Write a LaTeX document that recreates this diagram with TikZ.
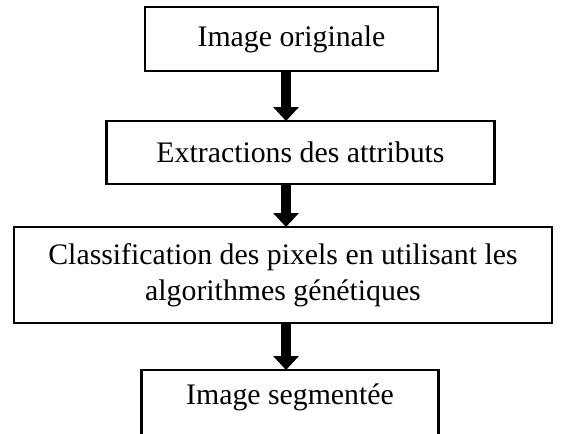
\documentclass[tikz,border=0pt]{standalone}
\usepackage{fontspec}
\setmainfont{Liberation Serif}
\usetikzlibrary{arrows.meta}
\tikzset{
  box/.style={draw=black, line width=2.1pt, fill=white, inner sep=0pt,
    font=\fontsize{29.8}{36}\selectfont, align=center},
  flowarrow/.style={line width=10.5pt, draw=black,
    -{Triangle[width=25pt,length=14pt]}}
}
\begin{document}
\begin{tikzpicture}[x=1pt,y=-1pt]
\clip (0,0) rectangle (566,434);
\fill[white] (0,0) rectangle (566,434);
\node[box, minimum width=293pt, minimum height=64pt] (b1) at (291.5,39) {Image originale};
\node[box, minimum width=388pt, minimum height=63pt] (b2) at (300.5,152.5) {Extractions des attributs};
\node[box, minimum width=538pt, minimum height=96pt] (b3) at (283,275) {Classification des pixels en utilisant les\\algorithmes génétiques};
\node[box, minimum width=297pt, text height=20.4pt, text depth=55pt, inner ysep=13.6pt, anchor=base] (b4) at (290,404) {Image segmentée};
\coordinate (a1s) at (286,72);
\coordinate (a1e) at (286,121);
\coordinate (a2s) at (286,185);
\coordinate (a2e) at (286,227);
\coordinate (a3s) at (286,324);
\coordinate (a3e) at (286,370);
\draw[flowarrow] (a1s) -- (a1e);
\draw[flowarrow] (a2s) -- (a2e);
\draw[flowarrow] (a3s) -- (a3e);
\end{tikzpicture}
\end{document}
